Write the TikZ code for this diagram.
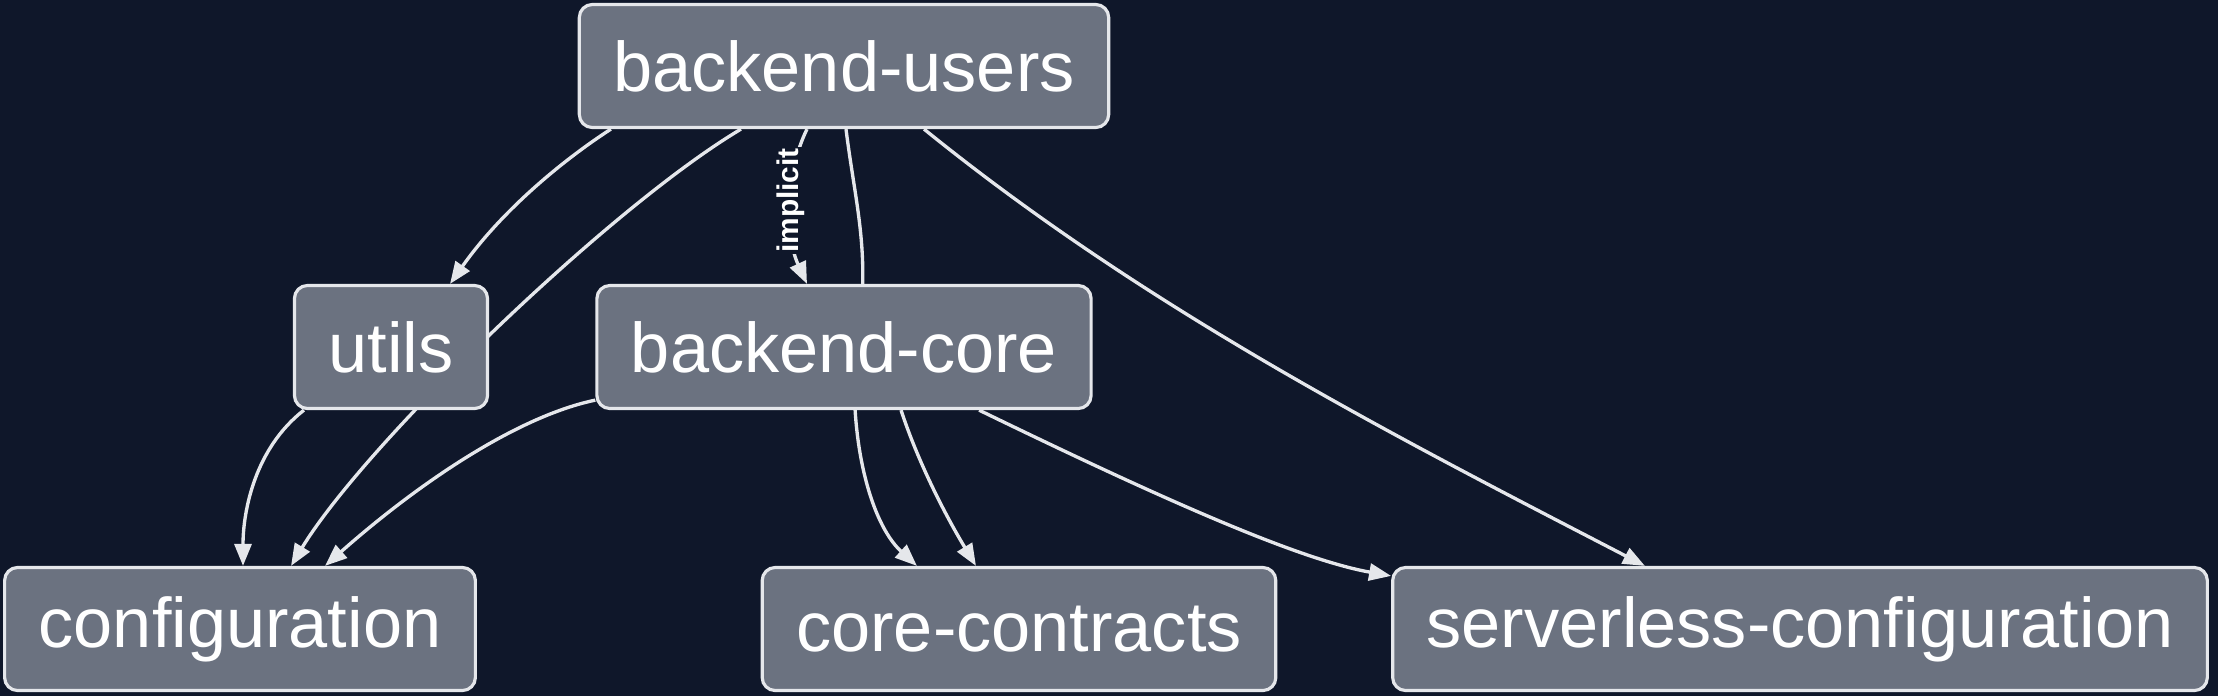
\documentclass[tikz,border=0pt]{standalone}
\usepackage{fontspec}
\setmainfont{Liberation Sans}
\usetikzlibrary{arrows.meta}
\pgfdeclarelayer{back}
\pgfdeclarelayer{edges}
\pgfsetlayers{back,edges,main}
\definecolor{bgdark}{HTML}{0F172A}
\definecolor{boxfill}{HTML}{6B7280}
\definecolor{edgegray}{HTML}{E5E7EB}

\begin{document}
\begin{tikzpicture}[
    x=0.01cm, y=-0.01cm,
    font=\fontsize{20pt}{24pt}\selectfont,
    pkg/.style={draw=edgegray, fill=boxfill, text=white, rounded corners=0.13cm,
                line width=0.9pt, minimum height=1.23cm, inner xsep=0.34cm},
    dep/.style={draw=edgegray, line width=0.95pt,
                -{Triangle[length=0.22cm, width=0.17cm]}},
    lbl/.style={font=\fontsize{8.5pt}{10pt}\selectfont\bfseries, text=white,
                fill=bgdark, inner sep=0.3pt, rotate=90}
  ]
  \useasboundingbox (0,0) rectangle (2218,696);
  \begin{pgfonlayer}{back}
    \fill[bgdark] (0,0) rectangle (2218,696);
  \end{pgfonlayer}

  % --- packages ------------------------------------------------------------
  \node[pkg] (users)     at (844,66)   {backend-users};
  \node[pkg] (utils)     at (391,347)  {utils};
  \node[pkg] (core)      at (844,347)  {backend-core};
  \node[pkg] (config)    at (240,629)  {configuration};
  \node[pkg] (contracts) at (1019,629) {core-contracts};
  \node[pkg] (sls)       at (1800,629) {serverless-configuration};

  \begin{pgfonlayer}{edges}
    % --- dependencies of backend-users ------------------------------------
    \draw[dep] ([xshift=-2.33cm]users.south) .. controls +(-51,33) and +(50,-71)
               .. ([xshift=0.59cm]utils.north);
    \draw[dep] ([xshift=-1.03cm]users.south) .. controls +(-131,78) and +(74,-122)
               .. ([xshift=0.51cm]config.north);
    \draw[dep] ([xshift=-0.37cm]users.south) .. controls +(-22,45) and +(-22,-48)
               .. node[lbl, pos=0.47] {implicit} ([xshift=-0.37cm]core.north);
    \draw[dep] ([xshift=0.02cm]users.south) .. controls +(10,80) and +(16,-90)
               .. ([xshift=0.12cm]core.center) .. controls +(-8,90) and +(-47,-43)
               .. ([xshift=-1.02cm]contracts.north);
    \draw[dep] ([xshift=0.8cm]users.south) .. controls +(226,183) and +(-245,-127)
               .. ([xshift=-1.55cm]sls.north);

    % --- dependencies of utils and backend-core ---------------------------
    \draw[dep] ([xshift=-0.87cm]utils.south) .. controls +(-49,38) and +(0,-55)
               .. ([xshift=0.03cm]config.north);
    \draw[dep] ([yshift=0.1cm]core.south west) .. controls +(-77,16) and +(95,-84)
               .. ([xshift=0.85cm]config.north);
    \draw[dep] ([xshift=0.57cm]core.south) .. controls +(19,58) and +(-26,-43)
               .. ([xshift=-0.43cm]contracts.north);
    \draw[dep] ([xshift=1.35cm]core.south) .. controls +(171,83) and +(-96,-17)
               .. ([yshift=-0.1cm]sls.north west);
  \end{pgfonlayer}
\end{tikzpicture}
\end{document}
